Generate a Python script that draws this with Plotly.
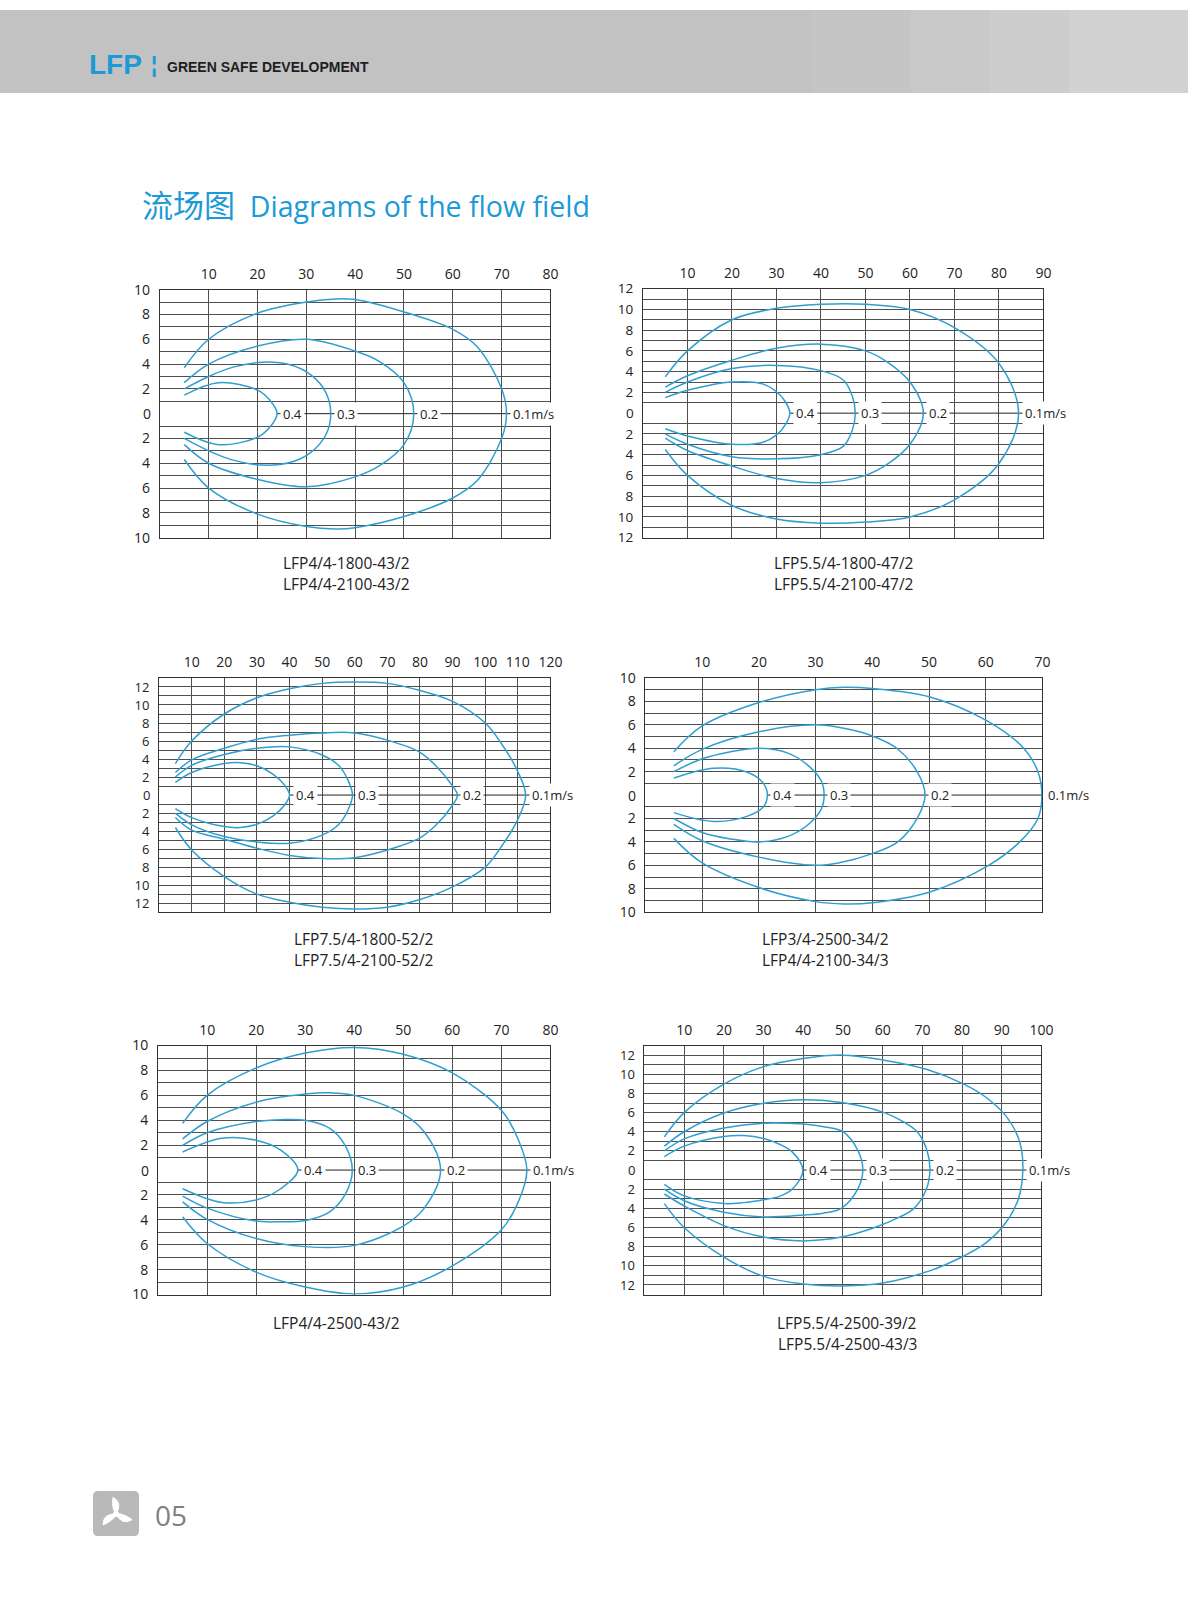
import math
import plotly.graph_objects as go

# ------------------------------------------------------------------ data
velocity_labels = ["0.4", "0.3", "0.2", "0.1m/s"]

# Chart 1 : LFP4/4-1800-43/2
ch1_models = ["LFP4/4-1800-43/2", "LFP4/4-2100-43/2"]
ch1_xticks = [10, 20, 30, 40, 50, 60, 70, 80]
ch1_yticks = [-10, -8, -6, -4, -2, 0, 2, 4, 6, 8, 10]
ch1_yrange = [-10, 10]
ch1_04x = [5, 12, 20, 22.5, 24, 22.5, 20, 12, 5]
ch1_04y = [1.5, 2.5, 1.9, 1.1, 0, -1.1, -1.9, -2.5, -1.5]
ch1_03x = [5, 10, 15, 21, 27, 31, 34, 35, 34, 31, 27, 21, 15, 10, 5]
ch1_03y = [2.0, 3.0, 3.75, 4.15, 3.9, 3.1, 1.7, 0, -1.7, -3.1, -3.9, -4.15, -3.75, -3.0, -2.0]
ch1_02x = [5, 10, 20, 30, 40, 45, 50, 52, 50, 45, 40, 30, 20, 10, 5]
ch1_02y = [2.5, 4.0, 5.45, 6.0, 5.05, 4.2, 2.5, 0, -2.5, -4.2, -5.1, -5.9, -5.3, -4.0, -2.5]
ch1_01x = [5, 10, 20, 30, 36, 40, 50, 60, 65, 70, 71, 70, 65, 60, 50, 40, 36, 30, 20, 10, 5]
ch1_01y = [3.7, 6.0, 8.1, 9.0, 9.25, 9.2, 8.2, 6.8, 5.4, 2.0, 0, -2.0, -5.4, -6.8, -8.3, -9.2, -9.3, -9.1, -8.1, -6.0, -3.7]

# Chart 2 : LFP5.5/4-1800-47/2
ch2_models = ["LFP5.5/4-1800-47/2", "LFP5.5/4-2100-47/2"]
ch2_xticks = [10, 20, 30, 40, 50, 60, 70, 80, 90]
ch2_yticks = [-12, -10, -8, -6, -4, -2, 0, 2, 4, 6, 8, 10, 12]
ch2_yrange = [-12, 12]
ch2_04x = [5, 10, 20, 27, 30, 32, 33, 32, 30, 27, 20, 10, 5]
ch2_04y = [1.5, 2.2, 3.0, 2.8, 2.06, 1.1, 0, -1.1, -2.1, -2.8, -3.0, -2.2, -1.5]
ch2_03x = [5, 10, 20, 30, 40, 45, 47, 47.7, 47, 45, 40, 30, 20, 10, 5]
ch2_03y = [2.0, 3.0, 4.3, 4.6, 4.1, 3.2, 1.7, 0, -1.7, -3.2, -4.0, -4.4, -4.2, -3.0, -2.0]
ch2_02x = [5, 10, 20, 30, 40, 50, 55, 60, 63, 60, 55, 50, 40, 30, 20, 10, 5]
ch2_02y = [2.5, 3.6, 5.1, 6.25, 6.65, 6.0, 4.9, 3.0, 0, -3.0, -4.9, -6.0, -6.7, -6.3, -5.1, -3.6, -2.4]
ch2_01x = [5, 10, 20, 30, 40, 50, 60, 70, 80, 84.4, 80, 70, 60, 50, 40, 30, 20, 10, 5]
ch2_01y = [3.5, 6.0, 9.0, 10.1, 10.5, 10.5, 10.0, 8.25, 4.8, 0, -4.85, -8.35, -10.0, -10.5, -10.6, -10.2, -8.9, -6.0, -3.5]

# Chart 3 : LFP7.5/4-1800-52/2
ch3_models = ["LFP7.5/4-1800-52/2", "LFP7.5/4-2100-52/2"]
ch3_xticks = [10, 20, 30, 40, 50, 60, 70, 80, 90, 100, 110, 120]
ch3_yticks = [-12, -10, -8, -6, -4, -2, 0, 2, 4, 6, 8, 10, 12]
ch3_yrange = [-13, 13]
ch3_04x = [5, 10, 20, 25, 30, 35, 38.5, 40, 38.5, 35, 30, 25, 20, 10, 5]
ch3_04y = [1.4, 2.5, 3.5, 3.6, 3.25, 2.3, 1.1, 0, -1.1, -2.3, -3.25, -3.6, -3.5, -2.5, -1.5]
ch3_03x = [5, 10, 20, 30, 40, 50, 55, 58, 59.3, 58, 55, 50, 40, 30, 20, 10, 5]
ch3_03y = [2.0, 3.3, 4.5, 5.2, 5.35, 4.45, 3.3, 1.6, 0, -1.6, -3.3, -4.45, -5.35, -5.2, -4.6, -3.3, -2.0]
ch3_02x = [5, 10, 20, 30, 40, 50, 60, 70, 80, 85, 90, 91.5, 90, 85, 80, 70, 60, 50, 40, 30, 20, 10, 5]
ch3_02y = [2.5, 3.9, 5.2, 6.2, 6.65, 6.9, 6.9, 6.1, 4.75, 3.2, 1.0, 0, -1.1, -3.3, -4.75, -6.1, -6.95, -7.05, -6.7, -5.9, -4.9, -3.9, -2.5]
ch3_01x = [5, 10, 20, 30, 40, 50, 60, 70, 80, 90, 100, 105, 110, 112.4, 110, 105, 100, 90, 80, 70, 60, 50, 40, 30, 20, 10, 5]
ch3_01y = [3.5, 6.0, 9.0, 10.8, 11.8, 12.4, 12.55, 12.4, 11.6, 10.4, 8.0, 5.7, 2.6, 0, -2.7, -5.7, -8.0, -10.2, -11.6, -12.45, -12.65, -12.45, -11.9, -11.0, -9.05, -6.1, -3.6]

# Chart 4 : LFP3/4-2500-34/2
ch4_models = ["LFP3/4-2500-34/2", "LFP4/4-2100-34/3"]
ch4_xticks = [10, 20, 30, 40, 50, 60, 70]
ch4_yticks = [-10, -8, -6, -4, -2, 0, 2, 4, 6, 8, 10]
ch4_yrange = [-10, 10]
ch4_04x = [5, 12, 18, 20.8, 21.5, 20.8, 18, 12, 5]
ch4_04y = [1.46, 2.3, 1.95, 1.0, 0, -1.0, -1.8, -2.25, -1.5]
ch4_03x = [5, 10, 15, 20, 25, 28.5, 31, 31.5, 31, 28.5, 25, 20, 15, 10, 5]
ch4_03y = [2.0, 3.1, 3.7, 4.0, 3.6, 2.6, 1.2, 0, -1.2, -2.6, -3.55, -4.0, -3.75, -3.2, -2.0]
ch4_02x = [5, 10, 20, 30, 35, 40, 44.3, 47.9, 49.3, 47.9, 44.5, 40, 34, 30, 20, 10, 5]
ch4_02y = [2.5, 3.9, 5.4, 6.0, 5.7, 5.05, 4.0, 2.0, 0, -2.0, -4.0, -5.0, -5.8, -6.0, -5.3, -3.9, -2.5]
ch4_01x = [5, 10, 20, 30, 35, 40, 50, 60, 66.7, 69.2, 69.9, 69.2, 66, 60.5, 50, 40, 35, 30, 20, 10, 5]
ch4_01y = [3.7, 5.9, 7.9, 9.0, 9.2, 9.1, 8.4, 6.4, 4.0, 2.0, 0, -2.0, -4.0, -6.0, -8.3, -9.2, -9.3, -9.1, -7.9, -5.8, -3.7]

# Chart 5 : LFP4/4-2500-43/2
ch5_models = ["LFP4/4-2500-43/2"]
ch5_xticks = [10, 20, 30, 40, 50, 60, 70, 80]
ch5_yticks = [-10, -8, -6, -4, -2, 0, 2, 4, 6, 8, 10]
ch5_yrange = [-10, 10]
ch5_04x = [5, 13, 20, 25, 28.5, 25, 20, 13, 5]
ch5_04y = [1.45, 2.55, 2.4, 1.6, 0, -1.5, -2.4, -2.6, -1.5]
ch5_03x = [5, 10, 20, 25, 30, 35, 38.1, 39.6, 38.1, 35, 30, 25, 20, 10, 5]
ch5_03y = [1.98, 3.0, 3.9, 4.05, 4.0, 3.35, 2.0, 0, -2.0, -3.35, -4.05, -4.15, -4.1, -3.06, -2.1]
ch5_02x = [5, 10, 20, 30, 35, 40, 50, 54.2, 57.6, 54.2, 50, 40, 30, 20, 10, 5]
ch5_02y = [2.5, 3.9, 5.45, 6.1, 6.2, 6.0, 4.5, 3.1, 0, -3.1, -4.5, -6.05, -6.15, -5.5, -3.96, -2.55]
ch5_01x = [5, 10, 20, 30, 40, 50, 60, 70, 73.5, 75.2, 73.5, 70, 60, 50, 40, 30, 20, 10, 5]
ch5_01y = [3.75, 6.0, 8.2, 9.4, 9.85, 9.3, 7.8, 4.8, 2.4, 0, -2.5, -4.8, -7.7, -9.4, -9.95, -9.4, -8.2, -5.9, -3.75]

# Chart 6 : LFP5.5/4-2500-39/2
ch6_models = ["LFP5.5/4-2500-39/2", "LFP5.5/4-2500-43/3"]
ch6_xticks = [10, 20, 30, 40, 50, 60, 70, 80, 90, 100]
ch6_yticks = [-12, -10, -8, -6, -4, -2, 0, 2, 4, 6, 8, 10, 12]
ch6_yrange = [-13, 13]
ch6_04x = [5, 10, 20, 25, 30, 34, 37.2, 39.9, 37.2, 34, 30, 25, 20, 10, 5]
ch6_04y = [1.4, 2.5, 3.5, 3.6, 3.3, 2.7, 1.9, 0, -2.0, -2.75, -3.1, -3.4, -3.5, -2.7, -1.5]
ch6_03x = [5, 10, 20, 30, 40, 45.5, 50, 53.8, 55, 53.7, 49.6, 45, 40, 30, 20, 10, 5]
ch6_03y = [2.0, 3.26, 4.4, 4.9, 4.8, 4.5, 4.0, 2.0, 0, -2.0, -4.0, -4.5, -4.7, -4.9, -4.4, -3.2, -2.0]
ch6_02x = [5, 10, 20, 30, 40, 50.5, 60.4, 65.4, 68.7, 71.2, 71.9, 71.0, 67.9, 63.8, 58, 49.6, 40, 30, 20, 10, 5]
ch6_02y = [2.5, 4.0, 5.95, 6.97, 7.35, 7.0, 6.0, 5.0, 4.0, 2.0, 0, -2.0, -4.0, -5.0, -6.0, -7.0, -7.4, -7.0, -5.8, -3.75, -2.5]
ch6_01x = [5, 10, 20, 30, 40, 50, 60, 71.2, 80.3, 86, 91.5, 94.6, 95.3, 94.2, 91, 86, 80.3, 72, 60, 50, 40, 30, 20, 10, 5]
ch6_01y = [3.47, 6.0, 8.97, 10.8, 11.65, 12.0, 11.5, 10.5, 9.0, 7.6, 5.4, 2.8, 0, -3.0, -5.5, -7.6, -9.0, -10.5, -11.8, -12.1, -11.9, -11.1, -9.1, -6.0, -3.5]

# ------------------------------------------------------------------ style
W, H = 1200, 1600
CURVE = "#2f9fd0"
BLUE = "#1b9ad7"
GRID = "#4f4f4f"
FONT = "Open Sans"

panels = [
    dict(box=(161.5, 556, 283, 534), xticks=ch1_xticks, yticks=ch1_yticks, yr=ch1_yrange,
         curves=[(ch1_04x, ch1_04y), (ch1_03x, ch1_03y), (ch1_02x, ch1_02y), (ch1_01x, ch1_01y)],
         models=ch1_models, cap=(350, 560), yfs=14),
    dict(box=(649.5, 1054, 282, 534), xticks=ch2_xticks, yticks=ch2_yticks, yr=ch2_yrange,
         curves=[(ch2_04x, ch2_04y), (ch2_03x, ch2_03y), (ch2_02x, ch2_02y), (ch2_01x, ch2_01y)],
         models=ch2_models, cap=(853, 560), yfs=13.5),
    dict(box=(160.7, 556, 676, 913), xticks=ch3_xticks, yticks=ch3_yticks, yr=ch3_yrange,
         curves=[(ch3_04x, ch3_04y), (ch3_03x, ch3_03y), (ch3_02x, ch3_02y), (ch3_01x, ch3_01y)],
         models=ch3_models, cap=(368, 940), yfs=13),
    dict(box=(652, 1053, 676, 913), xticks=ch4_xticks, yticks=ch4_yticks, yr=ch4_yrange,
         curves=[(ch4_04x, ch4_04y), (ch4_03x, ch4_03y), (ch4_02x, ch4_02y), (ch4_01x, ch4_01y)],
         models=ch4_models, cap=(834, 940), yfs=14),
    dict(box=(159.7, 556, 1048, 1300), xticks=ch5_xticks, yticks=ch5_yticks, yr=ch5_yrange,
         curves=[(ch5_04x, ch5_04y), (ch5_03x, ch5_03y), (ch5_02x, ch5_02y), (ch5_01x, ch5_01y)],
         models=ch5_models, cap=(340, 1329), yfs=14),
    dict(box=(651, 1052, 1048, 1300), xticks=ch6_xticks, yticks=ch6_yticks, yr=ch6_yrange,
         curves=[(ch6_04x, ch6_04y), (ch6_03x, ch6_03y), (ch6_02x, ch6_02y), (ch6_01x, ch6_01y)],
         models=ch6_models, cap=(856, 1329), yfs=13),
]

fig = go.Figure()
annotations = []
shapes = []
layout = {}


def px(x):
    return x / W


def py(y):
    return 1 - y / H


for i, p in enumerate(panels, start=1):
    sfx = "" if i == 1 else str(i)
    xref, yref = "x" + sfx, "y" + sfx
    x0, x1, y0, y1 = p["box"]
    xmax = p["xticks"][-1]
    ylo, yhi = p["yr"]

    # zero line from innermost contour tip to the right edge
    tip_inner = max(p["curves"][0][0])
    fig.add_trace(go.Scatter(x=[tip_inner, xmax], y=[0, 0], xaxis=xref, yaxis=yref,
                             mode="lines", line=dict(color="#222222", width=1),
                             hoverinfo="skip", showlegend=False))
    for (cx, cy), lab in zip(p["curves"], velocity_labels):
        fig.add_trace(go.Scatter(x=cx, y=cy, xaxis=xref, yaxis=yref, mode="lines",
                                 line=dict(color=CURVE, width=1.5, shape="spline", smoothing=1.0),
                                 hoverinfo="skip", showlegend=False))
        annotations.append(dict(x=max(cx), y=0, xref=xref, yref=yref, text=lab,
                                showarrow=False, xanchor="left", yanchor="middle", xshift=3,
                                bgcolor="white", borderpad=2,
                                font=dict(family=FONT, size=13, color="#222")))

    grid_vals = [v for v in range(ylo + 1, yhi) if v != 0]
    grid_text = [str(abs(v)) if v in p["yticks"] else "" for v in grid_vals]
    tickvals = [ylo] + grid_vals + [yhi]
    ticktext = [str(abs(ylo)) if ylo in p["yticks"] else ""] + grid_text + \
               [str(abs(yhi)) if yhi in p["yticks"] else ""]

    layout["xaxis" + sfx] = dict(
        domain=[px(x0), px(x1)], range=[0, xmax], anchor=yref, side="top",
        tickmode="array", tickvals=p["xticks"], ticktext=[str(t) for t in p["xticks"]],
        showgrid=True, gridcolor=GRID, gridwidth=1, zeroline=False,
        showline=True, mirror=True, linecolor="#333", linewidth=1,
        ticks="outside", ticklen=4, tickcolor="rgba(0,0,0,0)",
        tickfont=dict(family=FONT, size=14, color="#222"), fixedrange=True)
    layout["yaxis" + sfx] = dict(
        domain=[py(y1), py(y0)], range=[ylo, yhi], anchor=xref,
        tickmode="array", tickvals=tickvals, ticktext=ticktext,
        showgrid=True, gridcolor=GRID, gridwidth=1, zeroline=False,
        showline=True, mirror=True, linecolor="#333", linewidth=1,
        ticks="outside", ticklen=6, tickcolor="rgba(0,0,0,0)",
        tickfont=dict(family=FONT, size=p["yfs"], color="#222"), fixedrange=True)

    if 0 in p["yticks"]:
        annotations.append(dict(x=0, y=0, xref=xref + " domain", yref=yref, text="0",
                                showarrow=False, xanchor="right", yanchor="middle", xshift=-7,
                                font=dict(family=FONT, size=p["yfs"], color="#222")))

    cx_, cy_ = p["cap"]
    for k, m in enumerate(p["models"]):
        annotations.append(dict(x=px(cx_), y=py(cy_ + 21 * k), xref="paper", yref="paper",
                                text=m, showarrow=False, xanchor="center", yanchor="middle",
                                font=dict(family=FONT, size=15.5, color="#222")))

# ------------------------------------------------------------------ page decoration
shapes.append(dict(type="rect", xref="paper", yref="paper", x0=0, x1=1, y0=py(84), y1=1,
                   fillcolor="#c2c2c2", line=dict(width=0), layer="below"))
for xs, op in [(820, 0.06), (920, 0.08), (1000, 0.09), (1080, 0.1)]:
    shapes.append(dict(type="rect", xref="paper", yref="paper", x0=px(xs), x1=1, y0=py(84), y1=1,
                       fillcolor="white", opacity=op, line=dict(width=0), layer="below"))

annotations += [
    dict(x=px(88), y=py(55), xref="paper", yref="paper", text="LFP", showarrow=False,
         xanchor="left", yanchor="middle",
         font=dict(family="Liberation Sans", size=28, color=BLUE, weight="bold")),
    dict(x=px(151), y=py(55), xref="paper", yref="paper", text="¦", showarrow=False,
         xanchor="left", yanchor="middle",
         font=dict(family="Liberation Sans", size=22, color=BLUE, weight="bold")),
    dict(x=px(167), y=py(58), xref="paper", yref="paper", text="GREEN SAFE DEVELOPMENT",
         showarrow=False, xanchor="left", yanchor="middle",
         font=dict(family="Liberation Sans", size=14, color="#1e1e1e", weight="bold")),
    dict(x=px(141), y=py(197), xref="paper", yref="paper",
         text="<span style='font-size:31px'>流场图</span>&nbsp;&nbsp;Diagrams of the flow field",
         showarrow=False, xanchor="left", yanchor="middle",
         font=dict(family="Open Sans, Noto Sans CJK SC", size=28.5, color=BLUE)),
    dict(x=px(155), y=py(1523), xref="paper", yref="paper", text="05", showarrow=False,
         xanchor="left", yanchor="middle",
         font=dict(family="Open Sans", size=28, color="#808080")),
]

# footer icon: rounded grey square with a white three-blade fan


def pix(x, y):
    return f"{x:.1f},{H - y:.1f}"


def rounded_rect(x0, y0, x1, y1, r):
    return (f"M {pix(x0 + r, y0)} L {pix(x1 - r, y0)} Q {pix(x1, y0)} {pix(x1, y0 + r)} "
            f"L {pix(x1, y1 - r)} Q {pix(x1, y1)} {pix(x1 - r, y1)} L {pix(x0 + r, y1)} "
            f"Q {pix(x0, y1)} {pix(x0, y1 - r)} L {pix(x0, y0 + r)} Q {pix(x0, y0)} {pix(x0 + r, y0)} Z")


shapes.append(dict(type="path", xref="paper", yref="paper", xsizemode="pixel", ysizemode="pixel",
                   xanchor=0, yanchor=0, path=rounded_rect(93, 1500, 139, 1545, 5),
                   fillcolor="#b9b9b9", line=dict(width=0)))
cxi, cyi = 116, 1523
for ang in (100, 220, 340):
    a = math.radians(ang)
    tip = (cxi + 17 * math.cos(a), cyi - 17 * math.sin(a))
    c1 = (cxi + 13 * math.cos(a - 0.75), cyi - 13 * math.sin(a - 0.75))
    c2 = (cxi + 7 * math.cos(a + 0.55), cyi - 7 * math.sin(a + 0.55))
    path = f"M {pix(cxi, cyi)} Q {pix(*c1)} {pix(*tip)} Q {pix(*c2)} {pix(cxi, cyi)} Z"
    shapes.append(dict(type="path", xref="paper", yref="paper", xsizemode="pixel", ysizemode="pixel",
                       xanchor=0, yanchor=0, path=path, fillcolor="white", line=dict(color="white", width=1)))
shapes.append(dict(type="circle", xref="paper", yref="paper", xsizemode="pixel", ysizemode="pixel",
                   xanchor=0, yanchor=0, x0=cxi - 3, x1=cxi + 3, y0=H - cyi - 3, y1=H - cyi + 3,
                   fillcolor="white", line=dict(width=0)))

fig.update_layout(width=W, height=H, margin=dict(l=0, r=0, t=0, b=0, pad=0),
                  paper_bgcolor="white", plot_bgcolor="white", showlegend=False,
                  annotations=annotations, shapes=shapes, **layout)

fig.write_html(
    "out.html", config={"displayModeBar": False},
    post_script=("document.documentElement.style.margin='0';"
                 "document.documentElement.style.padding='0';"
                 "document.body.style.margin='0';document.body.style.padding='0';"
                 "document.documentElement.style.overflow='hidden';"
                 "document.body.style.overflow='hidden';"))
